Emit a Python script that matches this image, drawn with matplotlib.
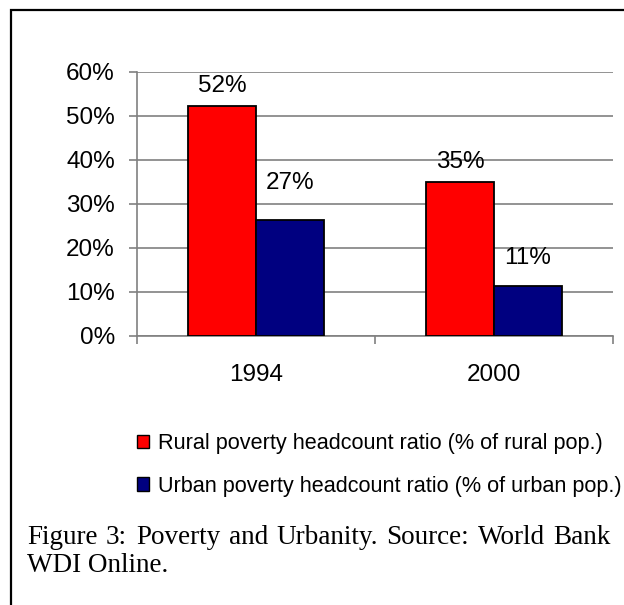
import matplotlib
matplotlib.use("Agg")
import matplotlib.pyplot as plt
from matplotlib.patches import Rectangle, Patch
import numpy as np

years = ["1994", "2000"]
rural = [52.2, 35.0]
urban = [26.4, 11.4]
rural_labels = ["52%", "35%"]
urban_labels = ["27%", "11%"]
series_names = ["Rural poverty headcount ratio (% of rural pop.)",
                "Urban poverty headcount ratio (% of urban pop.)"]
caption = ["Figure 3: Poverty and Urbanity. Source: World Bank", "WDI Online."]

W, H = 624, 605
fig = plt.figure(figsize=(W / 100, H / 100), dpi=100)
fig.patch.set_facecolor("white")

# cadre (seulement gauche et haut visibles)
fig.patches.append(Rectangle((11 / W, -0.1), 1.2, 1 - 10 / H + 0.1, transform=fig.transFigure,
                             fill=False, edgecolor="black", linewidth=1.6))

ax = fig.add_axes([137 / W, 1 - 336 / H, (613 - 137) / W, (336 - 72) / H])
font = "Liberation Sans"
fs = 17.5

x = np.arange(len(years))
w = 0.286
b1 = ax.bar(x - w / 2, rural, w, color="#FF0000", edgecolor="black", linewidth=1.3, zorder=3)
b2 = ax.bar(x + w / 2, urban, w, color="#000080", edgecolor="black", linewidth=1.3, zorder=3)

# décalage des étiquettes au-dessus des barres (en pixels)
offs = [[20, 20], [37, 28]]
for bars, labs, off in [(b1, rural_labels, offs[0]), (b2, urban_labels, offs[1])]:
    for r, lab, o in zip(bars, labs, off):
        ax.annotate(lab, (r.get_x() + r.get_width() / 2, r.get_height()),
                    xytext=(0, o * 0.72), textcoords="offset points", ha="center", va="center",
                    fontsize=fs, family=font)

ax.set_xlim(-0.5, 1.5)
ax.set_ylim(0, 60)
ax.set_yticks(np.arange(0, 61, 10))
ax.set_yticklabels([f"{v}%" for v in range(0, 61, 10)], fontsize=fs, family=font)
ax.set_xticks(x)
ax.set_xticklabels(years, fontsize=fs, family=font)
ax.set_xticks([-0.5, 0.5, 1.5], minor=True)
ax.tick_params(axis="x", which="major", length=0, pad=20)
ax.tick_params(axis="x", which="minor", length=6, color="#808080", width=1.2)
ax.tick_params(axis="y", length=6, color="#808080", width=1.2, pad=10)

ax.grid(axis="y", color="#808080", linewidth=1.2, zorder=0)
for s in ["top", "right"]:
    ax.spines[s].set_visible(False)
for s in ["left", "bottom"]:
    ax.spines[s].set_color("#808080")
    ax.spines[s].set_linewidth(1.2)

handles = [Patch(facecolor="#FF0000", edgecolor="black", linewidth=1),
           Patch(facecolor="#000080", edgecolor="black", linewidth=1)]
fig.legend(handles, series_names, loc="upper left", bbox_to_anchor=(137 / W, 1 - 433 / H),
           frameon=False, handlelength=0.55, handleheight=0.55, handletextpad=0.42,
           labelspacing=1.0, borderaxespad=0, borderpad=0,
           prop={"family": font, "size": 15.6})

# légende justifiée sur la première ligne
cfs = 19.5
r = fig.canvas.get_renderer()
words = caption[0].split()
tw = []
for wd in words:
    t = fig.text(0, 0, wd, fontsize=cfs, family="Liberation Serif")
    tw.append(t.get_window_extent(r).width)
    t.remove()
x0, x1 = 27, 611
gap = (x1 - x0 - sum(tw)) / (len(words) - 1)
xx = x0
for wd, wpx in zip(words, tw):
    fig.text(xx / W, 1 - 537 / H, wd, fontsize=cfs, family="Liberation Serif", va="center")
    xx += wpx + gap
fig.text(x0 / W, 1 - 566 / H, caption[1], fontsize=cfs, family="Liberation Serif", va="center")

fig.savefig("out.png", dpi=100)
